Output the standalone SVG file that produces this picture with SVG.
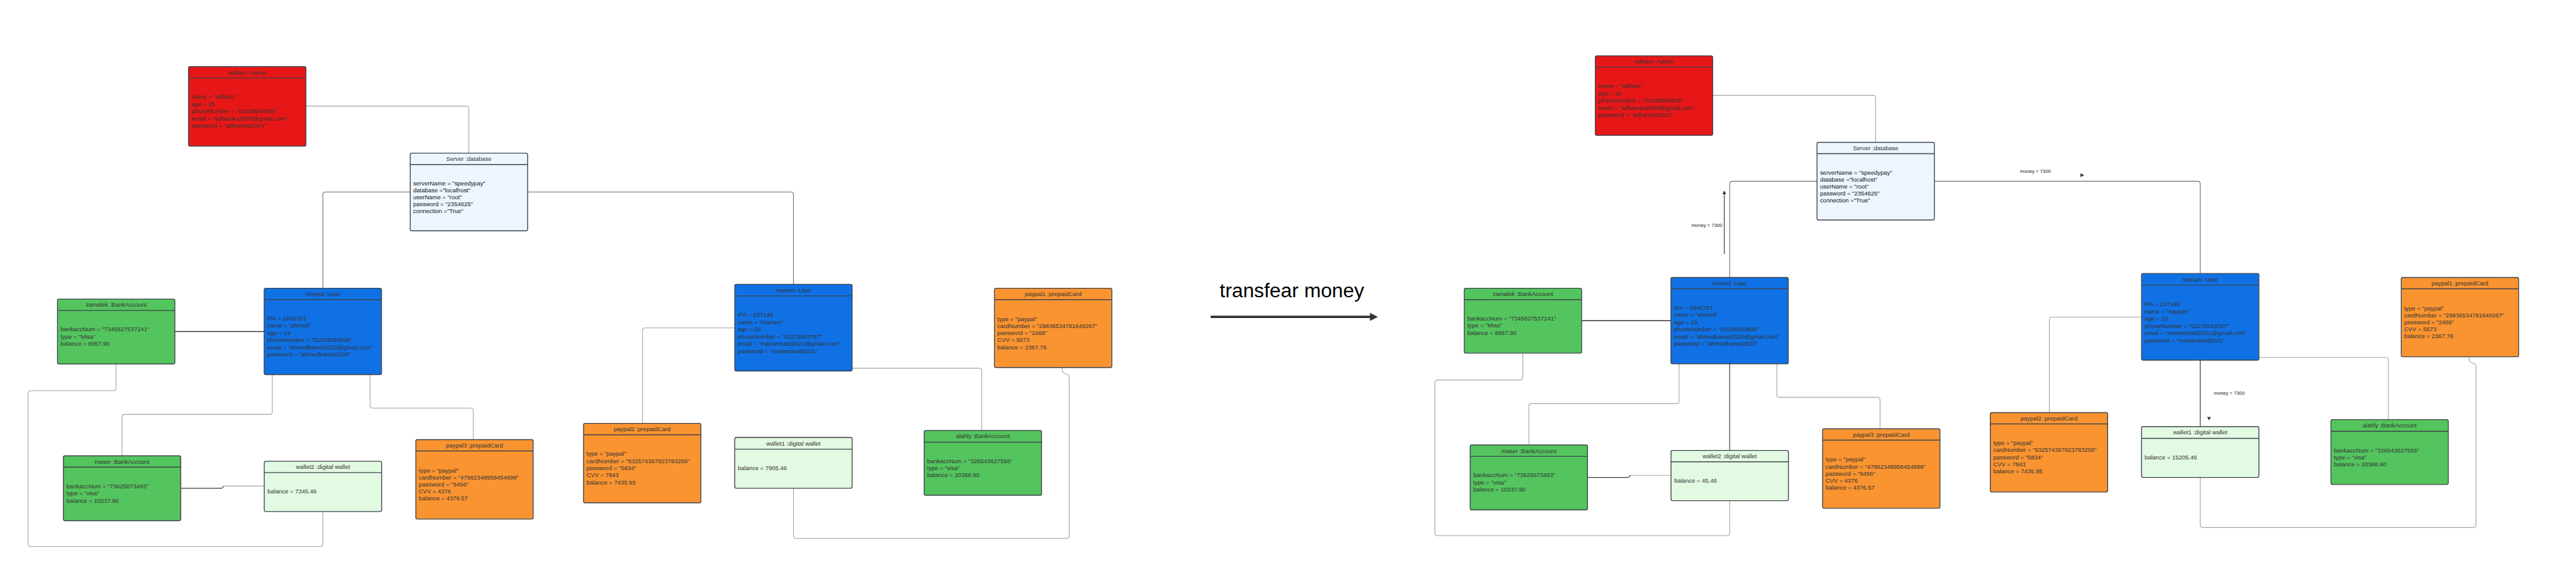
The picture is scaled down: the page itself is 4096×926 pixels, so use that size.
<svg xmlns="http://www.w3.org/2000/svg" width="4096" height="926" viewBox="0 0 4096 926">
<defs>
<style>
.bx{stroke:#3d434b;stroke-width:1.6}
.red{fill:#e81717}.grn{fill:#54c45e}.blu{fill:#1071e5}.org{fill:#fa9431}.srv{fill:#edf5ff}.wal{fill:#e2f9e2}
.dv{stroke:#3d434b;stroke-width:1.6}
.t{font-family:"Liberation Sans",Arial,sans-serif;font-size:11px;fill:#333}
.c{text-anchor:middle}
.dk{fill:#111}
.lbl{font-family:"Liberation Sans",Arial,sans-serif;font-size:9px;fill:#222}
.ln{fill:none;stroke:#a3a3a3;stroke-width:1.3}
.lm{fill:none;stroke:#6e6e6e;stroke-width:1.3}
.ld{fill:none;stroke:#333;stroke-width:1.8}
.lv{fill:none;stroke:#3a3a3a;stroke-width:1.4}
.ah{fill:#333}
</style>
</defs>
<rect width="4096" height="926" fill="#fff"/>
<g transform="scale(0.86)">

<!-- BEFORE -->
<g id="before">
<g id="b-connectors">
<path class="ln" d="M565.6,196.3 H861.9 Q866.9,196.3 866.9,201.3 V283.3"/>
<path class="lm" d="M758.5,355.3 H602 Q597,355.3 597,360.3 V533.3"/>
<path class="lm" d="M975.5,355.3 H1462 Q1467,355.3 1467,360.3 V526"/>
<path class="ld" d="M323.5,613.3 H488.4"/>
<path class="ln" d="M214.5,673.3 V718 Q214.5,723 209.5,723 H57 Q52,723 52,728 V1006 Q52,1011 57,1011 H592 Q597,1011 597,1006 V946.3"/>
<path class="ln" d="M503.5,693 V761.7 Q503.5,766.7 498.5,766.7 H230.7 Q225.7,766.7 225.7,771.7 V843.3"/>
<path class="ln" d="M684.3,693 V750 Q684.3,755 689.3,755 H870 Q875,755 875,760 V813.3"/>
<path class="lv" d="M333.6,903.3 H410 L414,899.3"/>
<path class="ln" d="M414,899.3 H488.6"/>
<path class="ln" d="M1358.5,606.7 H1193 Q1188,606.7 1188,611.7 V783.3"/>
<path class="ln" d="M1575.5,681.3 H1810 Q1815,681.3 1815,686.3 V796.3"/>
<path class="ln" d="M1467,903.3 V991 Q1467,996 1472,996 H1972 Q1977,996 1977,991 V697 C1977,691 1964.3,692 1964.3,686 V680"/>
</g>

<g id="b-adham">
<rect class="bx red" x="348.6" y="123.3" width="217" height="147" rx="3"/>
<line class="dv" x1="348.6" y1="144.3" x2="565.6" y2="144.3"/>
<text class="t c" x="457.1" y="137.8">adham :Admin</text>
<text class="t"><tspan x="354" y="183">name = "adham"</tspan><tspan x="354" y="196.3">age = 25</tspan><tspan x="354" y="209.7">phoneNumber = "01028584939"</tspan><tspan x="354" y="223">email = "adhamka2000@gmail.com"</tspan><tspan x="354" y="236.3">password = "adhamka2024"</tspan></text>
</g>

<g id="b-server">
<rect class="bx srv" x="758.5" y="283.3" width="217" height="143.7" rx="3"/>
<line class="dv" x1="758.5" y1="304.3" x2="975.5" y2="304.3"/>
<text class="t c" x="867" y="297.8">Server :database</text>
<text class="t dk"><tspan x="764" y="343.3">serverName = "speedypay"</tspan><tspan x="764" y="356">database ="localhost"</tspan><tspan x="764" y="368.7">userName = "root"</tspan><tspan x="764" y="381.3">password  = "2354625"</tspan><tspan x="764" y="394">connection ="True"</tspan></text>
</g>

<g id="b-zamalek">
<rect class="bx grn" x="106.3" y="553.3" width="217" height="120" rx="3"/>
<line class="dv" x1="106.3" y1="574.3" x2="323.3" y2="574.3"/>
<text class="t c" x="214.8" y="567.8">zamalek :BankAccount</text>
<text class="t"><tspan x="112" y="613">bankaccNum = "7345627537241"</tspan><tspan x="112" y="626.3">type = "Misa"</tspan><tspan x="112" y="639.7">balance = 8957.90</tspan></text>
</g>

<g id="b-ahmed">
<rect class="bx blu" x="488.4" y="533.3" width="217" height="159.7" rx="3"/>
<line class="dv" x1="488.4" y1="554.3" x2="705.4" y2="554.3"/>
<text class="t c" x="596.9" y="547.8">Ahmed :User</text>
<text class="t"><tspan x="494" y="593">IPA  = 1845763</tspan><tspan x="494" y="606.3">name = "ahmed"</tspan><tspan x="494" y="619.7">age = 19</tspan><tspan x="494" y="633">phoneNumber = "01028393846"</tspan><tspan x="494" y="646.3">email = "ahmedkamel2020@gmail.com"</tspan><tspan x="494" y="659.7">password = "ahmedkamel2020"</tspan></text>
</g>

<g id="b-maser">
<rect class="bx grn" x="117.2" y="843.3" width="217" height="120" rx="3"/>
<line class="dv" x1="117.2" y1="864.3" x2="334.2" y2="864.3"/>
<text class="t c" x="225.7" y="857.8">maser :BankAccount</text>
<text class="t"><tspan x="122.7" y="903">bankaccNum = "73625673493"</tspan><tspan x="122.7" y="916.3">type = "visa"</tspan><tspan x="122.7" y="929.7">balance = 10237.90</tspan></text>
</g>

<g id="b-wallet2">
<rect class="bx wal" x="488.6" y="853.3" width="217" height="93" rx="3"/>
<line class="dv" x1="488.6" y1="874.3" x2="705.6" y2="874.3"/>
<text class="t c" x="597.1" y="867.8">wallet2 :digital wallet</text>
<text class="t" x="494.5" y="913">balance = 7345.46</text>
</g>

<g id="b-paypal3">
<rect class="bx org" x="768.8" y="813.3" width="217" height="147" rx="3"/>
<line class="dv" x1="768.8" y1="834.3" x2="985.8" y2="834.3"/>
<text class="t c" x="877.3" y="827.8">paypal3 :prepaidCard</text>
<text class="t"><tspan x="774.2" y="874">type = "paypal"</tspan><tspan x="774.2" y="887">cardNumber = "47862348958454898"</tspan><tspan x="774.2" y="900">password = "9456"</tspan><tspan x="774.2" y="913">CVV = 4376</tspan><tspan x="774.2" y="926">balance = 4376.57</tspan></text>
</g>

<g id="b-mariam">
<rect class="bx blu" x="1358.5" y="526" width="217" height="160.3" rx="3"/>
<line class="dv" x1="1358.5" y1="547.5" x2="1575.5" y2="547.5"/>
<text class="t c" x="1467" y="540.8">mariam :User</text>
<text class="t"><tspan x="1364" y="586.3">IPA  = 237146</tspan><tspan x="1364" y="599.7">name = "mariam"</tspan><tspan x="1364" y="613.1">age = 20</tspan><tspan x="1364" y="626.5">phoneNumber = "01176543787"</tspan><tspan x="1364" y="639.9">email = "mariamsaid2021@gmail.com"</tspan><tspan x="1364" y="653.3">password = "mariamsaid2021"</tspan></text>
</g>

<g id="b-paypal1">
<rect class="bx org" x="1838.7" y="533.3" width="217" height="146.7" rx="3"/>
<line class="dv" x1="1838.7" y1="554.3" x2="2055.7" y2="554.3"/>
<text class="t c" x="1947.2" y="547.8">paypal1 :prepaidCard</text>
<text class="t"><tspan x="1844" y="594">type = "paypal"</tspan><tspan x="1844" y="607">cardNumber = "29836534781649267"</tspan><tspan x="1844" y="620">password = "2468"</tspan><tspan x="1844" y="633">CVV = 5673</tspan><tspan x="1844" y="646">balance = 2367.76</tspan></text>
</g>

<g id="b-paypal2">
<rect class="bx org" x="1078.9" y="783.3" width="217" height="147" rx="3"/>
<line class="dv" x1="1078.9" y1="804.3" x2="1295.9" y2="804.3"/>
<text class="t c" x="1187.4" y="797.8">paypal2 :prepaidCard</text>
<text class="t"><tspan x="1084.4" y="843.3">type = "paypal"</tspan><tspan x="1084.4" y="856.5">cardNumber = "632574367823783256"</tspan><tspan x="1084.4" y="869.7">password = "5834"</tspan><tspan x="1084.4" y="882.9">CVV = 7843</tspan><tspan x="1084.4" y="896.1">balance = 7435.95</tspan></text>
</g>

<g id="b-wallet1">
<rect class="bx wal" x="1358.5" y="809.3" width="217" height="94" rx="3"/>
<line class="dv" x1="1358.5" y1="831" x2="1575.5" y2="831"/>
<text class="t c" x="1467" y="824">wallet1 :digital wallet</text>
<text class="t" x="1364" y="870.3">balance = 7905.46</text>
</g>

<g id="b-alahly">
<rect class="bx grn" x="1708.7" y="796.3" width="217" height="120" rx="3"/>
<line class="dv" x1="1708.7" y1="818" x2="1925.7" y2="818"/>
<text class="t c" x="1817.2" y="811">alahly :BankAccount</text>
<text class="t"><tspan x="1714" y="856.7">bankaccNum = "326543627556"</tspan><tspan x="1714" y="869.9">type = "visa"</tspan><tspan x="1714" y="883.1">balance = 20368.90</tspan></text>
</g>
</g>

<!-- TRANSITION -->
<g id="transfer">
<text x="2255" y="550" style="font-family:'Liberation Sans',Arial,sans-serif;font-size:37px;fill:#000">transfear money</text>
<line x1="2238.3" y1="586.3" x2="2536" y2="586.3" stroke="#333" stroke-width="4.4"/>
<polygon points="2533,578.9 2547.7,586.3 2533,593.7" fill="#333"/>
</g>

<!-- AFTER -->
<g id="after" transform="translate(2601,-20)">
<g id="a-connectors">
<path class="ln" d="M565.6,196.3 H861.9 Q866.9,196.3 866.9,201.3 V283.3"/>
<path class="lm" d="M758.5,355.3 H602 Q597,355.3 597,360.3 V533.3"/>
<path class="lm" d="M975.5,355.3 H1462 Q1467,355.3 1467,360.3 V526"/>
<path class="ld" d="M323.5,613.3 H488.4"/>
<path class="ln" d="M214.5,673.3 V718 Q214.5,723 209.5,723 H57 Q52,723 52,728 V1006 Q52,1011 57,1011 H592 Q597,1011 597,1006 V946.3"/>
<path class="ln" d="M503.5,693 V761.7 Q503.5,766.7 498.5,766.7 H230.7 Q225.7,766.7 225.7,771.7 V843.3"/>
<path class="ln" d="M684.3,693 V750 Q684.3,755 689.3,755 H870 Q875,755 875,760 V813.3"/>
<path class="lv" d="M333.6,903.3 H410 L414,899.3"/>
<path class="ln" d="M414,899.3 H488.6"/>
<path class="ln" d="M1358.5,606.7 H1193 Q1188,606.7 1188,611.7 V783.3"/>
<path class="ln" d="M1575.5,681.3 H1810 Q1815,681.3 1815,686.3 V796.3"/>
<path class="ln" d="M1467,903.3 V991 Q1467,996 1472,996 H1972 Q1977,996 1977,991 V697 C1977,691 1964.3,692 1964.3,686 V680"/>
<path class="lv" d="M597,693 V853.3"/>
<path class="lv" d="M1467,686.3 V809.3"/>
<path class="lv" d="M587,490 V378"/>
<polygon class="ah" points="583.5,379 587,372.6 590.5,379"/>
<text class="lbl" x="583.5" y="440" text-anchor="end">money = 7300</text>
<text class="lbl" x="1133.6" y="340">money = 7300</text>
<polygon class="ah" points="1245.5,340.5 1252.5,344 1245.5,347.5"/>
<text class="lbl" x="1492" y="750">money = 7300</text>
<polygon class="ah" points="1479.8,791.5 1486.8,791.5 1483.3,797.5"/>
</g>

<g id="a-adham">
<rect class="bx red" x="348.6" y="123.3" width="217" height="147" rx="3"/>
<line class="dv" x1="348.6" y1="144.3" x2="565.6" y2="144.3"/>
<text class="t c" x="457.1" y="137.8">adham :Admin</text>
<text class="t"><tspan x="354" y="183">name = "adham"</tspan><tspan x="354" y="196.3">age = 25</tspan><tspan x="354" y="209.7">phoneNumber = "01028584939"</tspan><tspan x="354" y="223">email = "adhamka2000@gmail.com"</tspan><tspan x="354" y="236.3">password = "adhamka2024"</tspan></text>
</g>

<g id="a-server">
<rect class="bx srv" x="758.5" y="283.3" width="217" height="143.7" rx="3"/>
<line class="dv" x1="758.5" y1="304.3" x2="975.5" y2="304.3"/>
<text class="t c" x="867" y="297.8">Server :database</text>
<text class="t dk"><tspan x="764" y="343.3">serverName = "speedypay"</tspan><tspan x="764" y="356">database ="localhost"</tspan><tspan x="764" y="368.7">userName = "root"</tspan><tspan x="764" y="381.3">password  = "2354625"</tspan><tspan x="764" y="394">connection ="True"</tspan></text>
</g>

<g id="a-zamalek">
<rect class="bx grn" x="106.3" y="553.3" width="217" height="120" rx="3"/>
<line class="dv" x1="106.3" y1="574.3" x2="323.3" y2="574.3"/>
<text class="t c" x="214.8" y="567.8">zamalek :BankAccount</text>
<text class="t"><tspan x="112" y="613">bankaccNum = "7345627537241"</tspan><tspan x="112" y="626.3">type = "Misa"</tspan><tspan x="112" y="639.7">balance = 8957.90</tspan></text>
</g>

<g id="a-ahmed">
<rect class="bx blu" x="488.4" y="533.3" width="217" height="159.7" rx="3"/>
<line class="dv" x1="488.4" y1="554.3" x2="705.4" y2="554.3"/>
<text class="t c" x="596.9" y="547.8">Ahmed :User</text>
<text class="t"><tspan x="494" y="593">IPA  = 1845763</tspan><tspan x="494" y="606.3">name = "ahmed"</tspan><tspan x="494" y="619.7">age = 19</tspan><tspan x="494" y="633">phoneNumber = "01028393846"</tspan><tspan x="494" y="646.3">email = "ahmedkamel2020@gmail.com"</tspan><tspan x="494" y="659.7">password = "ahmedkamel2020"</tspan></text>
</g>

<g id="a-maser">
<rect class="bx grn" x="117.2" y="843.3" width="217" height="120" rx="3"/>
<line class="dv" x1="117.2" y1="864.3" x2="334.2" y2="864.3"/>
<text class="t c" x="225.7" y="857.8">maser :BankAccount</text>
<text class="t"><tspan x="122.7" y="903">bankaccNum = "73625673493"</tspan><tspan x="122.7" y="916.3">type = "visa"</tspan><tspan x="122.7" y="929.7">balance = 10237.90</tspan></text>
</g>

<g id="a-wallet2">
<rect class="bx wal" x="488.6" y="853.3" width="217" height="93" rx="3"/>
<line class="dv" x1="488.6" y1="874.3" x2="705.6" y2="874.3"/>
<text class="t c" x="597.1" y="867.8">wallet2 :digital wallet</text>
<text class="t" x="494.5" y="913">balance = 45.46</text>
</g>

<g id="a-paypal3">
<rect class="bx org" x="768.8" y="813.3" width="217" height="147" rx="3"/>
<line class="dv" x1="768.8" y1="834.3" x2="985.8" y2="834.3"/>
<text class="t c" x="877.3" y="827.8">paypal3 :prepaidCard</text>
<text class="t"><tspan x="774.2" y="874">type = "paypal"</tspan><tspan x="774.2" y="887">cardNumber = "47862348958454898"</tspan><tspan x="774.2" y="900">password = "9456"</tspan><tspan x="774.2" y="913">CVV = 4376</tspan><tspan x="774.2" y="926">balance = 4376.57</tspan></text>
</g>

<g id="a-mariam">
<rect class="bx blu" x="1358.5" y="526" width="217" height="160.3" rx="3"/>
<line class="dv" x1="1358.5" y1="547.5" x2="1575.5" y2="547.5"/>
<text class="t c" x="1467" y="540.8">mariam :User</text>
<text class="t"><tspan x="1364" y="586.3">IPA  = 237146</tspan><tspan x="1364" y="599.7">name = "mariam"</tspan><tspan x="1364" y="613.1">age = 20</tspan><tspan x="1364" y="626.5">phoneNumber = "01176543787"</tspan><tspan x="1364" y="639.9">email = "mariamsaid2021@gmail.com"</tspan><tspan x="1364" y="653.3">password = "mariamsaid2021"</tspan></text>
</g>

<g id="a-paypal1">
<rect class="bx org" x="1838.7" y="533.3" width="217" height="146.7" rx="3"/>
<line class="dv" x1="1838.7" y1="554.3" x2="2055.7" y2="554.3"/>
<text class="t c" x="1947.2" y="547.8">paypal1 :prepaidCard</text>
<text class="t"><tspan x="1844" y="594">type = "paypal"</tspan><tspan x="1844" y="607">cardNumber = "29836534781649267"</tspan><tspan x="1844" y="620">password = "2468"</tspan><tspan x="1844" y="633">CVV = 5673</tspan><tspan x="1844" y="646">balance = 2367.76</tspan></text>
</g>

<g id="a-paypal2">
<rect class="bx org" x="1078.9" y="783.3" width="217" height="147" rx="3"/>
<line class="dv" x1="1078.9" y1="804.3" x2="1295.9" y2="804.3"/>
<text class="t c" x="1187.4" y="797.8">paypal2 :prepaidCard</text>
<text class="t"><tspan x="1084.4" y="843.3">type = "paypal"</tspan><tspan x="1084.4" y="856.5">cardNumber = "632574367823783256"</tspan><tspan x="1084.4" y="869.7">password = "5834"</tspan><tspan x="1084.4" y="882.9">CVV = 7843</tspan><tspan x="1084.4" y="896.1">balance = 7435.95</tspan></text>
</g>

<g id="a-wallet1">
<rect class="bx wal" x="1358.5" y="809.3" width="217" height="94" rx="3"/>
<line class="dv" x1="1358.5" y1="831" x2="1575.5" y2="831"/>
<text class="t c" x="1467" y="824">wallet1 :digital wallet</text>
<text class="t" x="1364" y="870.3">balance = 15205.46</text>
</g>

<g id="a-alahly">
<rect class="bx grn" x="1708.7" y="796.3" width="217" height="120" rx="3"/>
<line class="dv" x1="1708.7" y1="818" x2="1925.7" y2="818"/>
<text class="t c" x="1817.2" y="811">alahly :BankAccount</text>
<text class="t"><tspan x="1714" y="856.7">bankaccNum = "326543627556"</tspan><tspan x="1714" y="869.9">type = "visa"</tspan><tspan x="1714" y="883.1">balance = 20368.90</tspan></text>
</g>
</g>

</g>
</svg>
